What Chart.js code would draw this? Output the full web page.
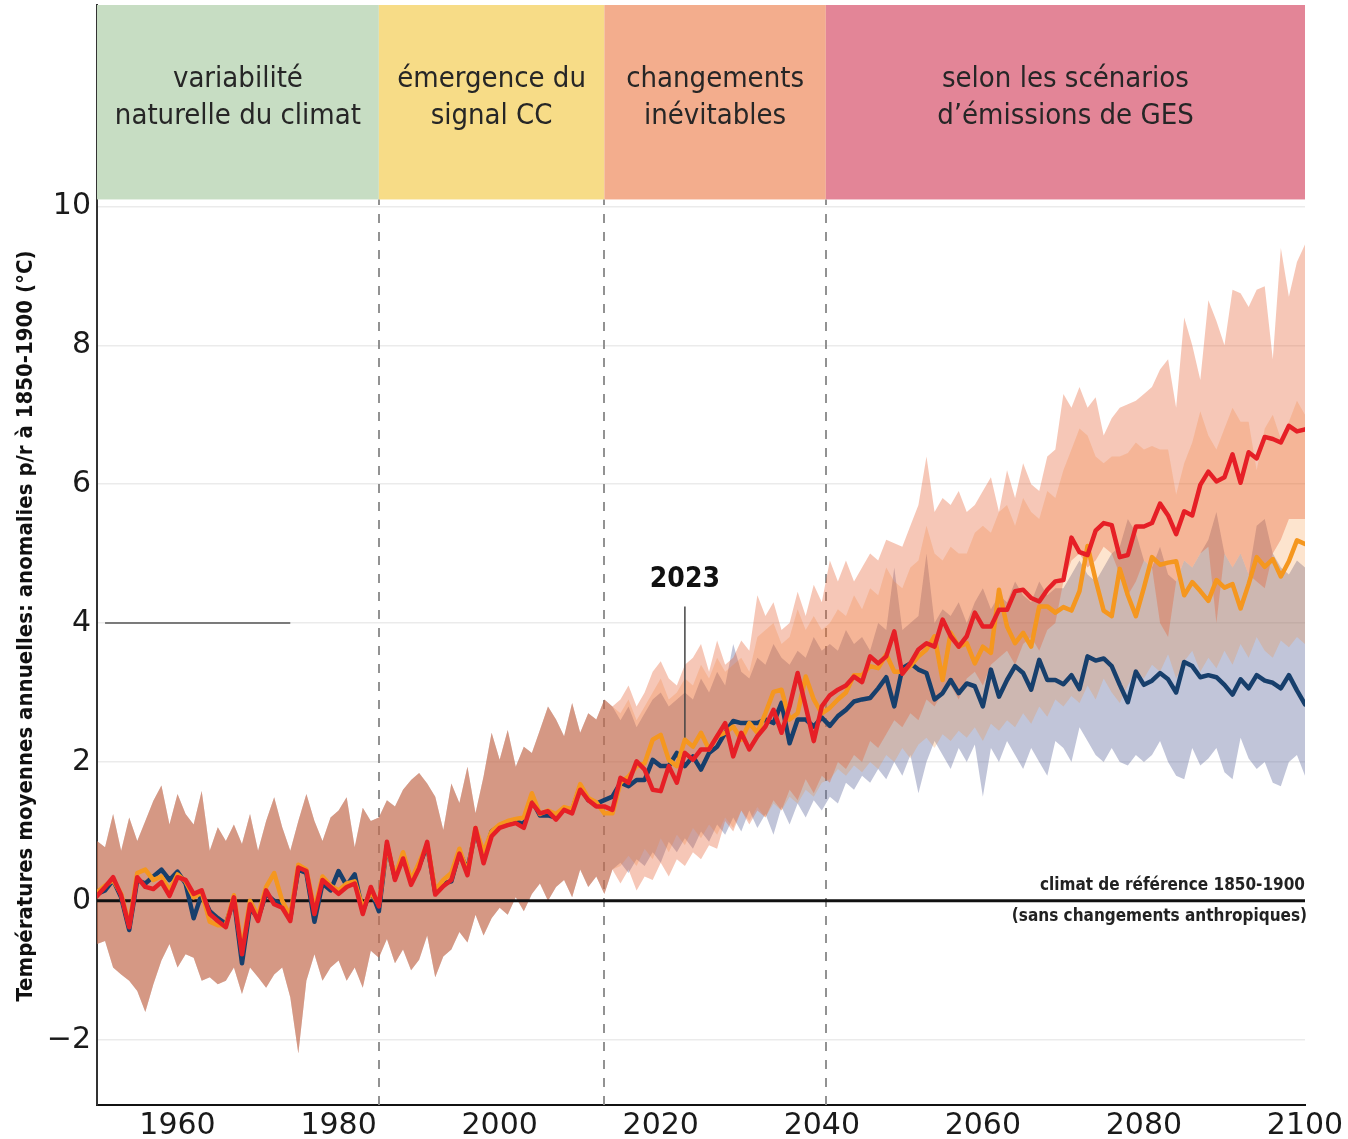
<!DOCTYPE html>
<html>
<head>
<meta charset="utf-8">
<script src="https://cdn.jsdelivr.net/npm/chart.js@4.4.1/dist/chart.umd.min.js"></script>
<style>
  html, body { margin: 0; padding: 0; background: #fff; }
</style>
</head>
<body>
<canvas id="chart" width="1348" height="1139"></canvas>
<script>
// years 1950..2100, historical part 1950-2014, scenarios 2015-2100
var firstYear = 1950;
var lastYear = 2100;

var xTicks = [1960, 1980, 2000, 2020, 2040, 2060, 2080, 2100];
var yTicks = [-2, 0, 2, 4, 6, 8, 10];

// phases shown in the header band
var phaseEdges = [1950, 1985, 2013, 2040.5, 2100];
var phaseLabels = [
    ['variabilité', 'naturelle du climat'],
    ['émergence du', 'signal CC'],
    ['changements', 'inévitables'],
    ['selon les scénarios', 'd\u2019émissions de GES']
];
var phaseColors = ['#c7ddc3', '#f7dc87', '#f3ad8d', '#e38597'];

// annual mean anomalies, historical runs (1950-2014)
var histBlue = [
    0.10, 0.15, 0.30, 0.05, -0.42, 0.30, 0.25, 0.35, 0.45, 0.30,
    0.42, 0.25, -0.25, 0.10, -0.15, -0.25, -0.33, 0.02, -0.90, -0.10,
    -0.25, 0.10, 0.00, -0.05, -0.25, 0.45, 0.40, -0.30, 0.25, 0.15,
    0.43, 0.22, 0.38, -0.15, 0.15, -0.15, 0.80, 0.33, 0.66, 0.28,
    0.50, 0.80, 0.12, 0.25, 0.28, 0.70, 0.45, 1.00, 0.62, 1.00,
    1.08, 1.12, 1.15, 1.10, 1.45, 1.23, 1.23, 1.20, 1.33, 1.30,
    1.65, 1.45, 1.40, 1.45, 1.50
];
var histOrange = [
    0.12, 0.22, 0.30, 0.10, -0.35, 0.40, 0.45, 0.30, 0.35, 0.15,
    0.38, 0.28, 0.05, 0.12, -0.30, -0.35, -0.35, 0.08, -0.70, 0.00,
    -0.22, 0.20, 0.40, 0.00, -0.22, 0.52, 0.45, -0.12, 0.35, 0.22,
    0.15, 0.25, 0.28, -0.10, 0.12, -0.05, 0.80, 0.35, 0.70, 0.30,
    0.55, 0.82, 0.15, 0.30, 0.40, 0.75, 0.40, 1.05, 0.70, 1.00,
    1.10, 1.15, 1.18, 1.20, 1.55, 1.25, 1.30, 1.25, 1.35, 1.32,
    1.68, 1.48, 1.42, 1.26, 1.26
];
var histRed = [
    0.07, 0.20, 0.34, 0.08, -0.38, 0.34, 0.20, 0.17, 0.27, 0.07,
    0.34, 0.30, 0.10, 0.15, -0.19, -0.29, -0.38, 0.05, -0.77, -0.05,
    -0.29, 0.15, -0.05, -0.10, -0.29, 0.48, 0.43, -0.19, 0.30, 0.20,
    0.10, 0.20, 0.25, -0.19, 0.20, -0.08, 0.85, 0.30, 0.61, 0.23,
    0.47, 0.85, 0.09, 0.21, 0.30, 0.68, 0.37, 1.05, 0.54, 0.93,
    1.05, 1.09, 1.12, 1.05, 1.41, 1.26, 1.29, 1.17, 1.31, 1.26,
    1.60, 1.45, 1.36, 1.36, 1.31
];
// spread of the model ensemble, historical (1950-2014)
var histBandHigh = [
    0.86, 0.77, 1.25, 0.72, 1.20, 0.86, 1.15, 1.44, 1.66, 1.10,
    1.54, 1.25, 1.10, 1.58, 0.72, 1.06, 0.86, 1.10, 0.82, 1.25,
    0.72, 1.15, 1.49, 1.06, 0.72, 1.15, 1.54, 1.15, 0.86, 1.20,
    1.30, 1.49, 0.77, 1.34, 1.15, 1.20, 1.45, 1.36, 1.60, 1.74,
    1.84, 1.69, 1.50, 1.02, 1.69, 1.41, 1.93, 1.26, 1.79, 2.42,
    2.03, 2.46, 1.93, 2.22, 2.13, 2.46, 2.80, 2.61, 2.37, 2.85,
    2.42, 2.70, 2.61, 2.90, 2.80
];
var histBandLow = [
    -0.62, -0.58, -0.96, -1.06, -1.15, -1.30, -1.60, -1.20, -0.86, -0.62,
    -0.96, -0.77, -0.82, -1.15, -1.10, -1.20, -1.15, -0.96, -1.34, -0.96,
    -1.10, -1.25, -1.06, -0.96, -1.39, -2.20, -1.15, -0.77, -1.15, -0.96,
    -0.86, -1.15, -0.96, -1.25, -0.72, -0.82, -0.55, -0.90, -0.70, -1.00,
    -0.85, -0.50, -1.10, -0.80, -0.70, -0.45, -0.60, -0.20, -0.50, -0.25,
    -0.10, -0.20, 0.05, -0.15, 0.10, 0.25, 0.00, 0.20, 0.30, 0.05,
    0.45, 0.20, 0.35, 0.10, 0.45
];

// scenarios 2015-2100
var futBlue = [
    1.70, 1.65, 1.74, 1.74, 2.03,
    1.94, 1.94, 2.13, 1.94, 2.08, 1.89, 2.13, 2.22, 2.42, 2.59,
    2.56, 2.56, 2.56, 2.61, 2.56, 2.85, 2.27, 2.61, 2.61, 2.51,
    2.64, 2.52, 2.66, 2.75, 2.87, 2.90, 2.92, 3.06, 3.22, 2.80,
    3.35, 3.42, 3.33, 3.28, 2.90, 2.99, 3.18, 2.99, 3.13, 3.09,
    2.80, 3.33, 2.94, 3.18, 3.38, 3.28, 3.04, 3.47, 3.18, 3.18,
    3.12, 3.25, 3.05, 3.52, 3.46, 3.49, 3.38, 3.11, 2.86, 3.30,
    3.11, 3.17, 3.28, 3.19, 3.00, 3.44, 3.38, 3.22, 3.25, 3.22,
    3.11, 2.97, 3.19, 3.06, 3.25, 3.17, 3.14, 3.06, 3.25, 3.03,
    2.83
];
var futOrange = [
    1.70, 1.79, 1.94, 1.98, 2.32,
    2.39, 2.03, 1.94, 2.32, 2.22, 2.42, 2.18, 2.37, 2.42, 2.51,
    2.32, 2.56, 2.42, 2.70, 3.01, 3.04, 2.61, 2.70, 3.23, 2.90,
    2.70, 2.78, 2.90, 3.00, 3.25, 3.25, 3.38, 3.35, 3.55, 3.30,
    3.30, 3.38, 3.52, 3.62, 3.81, 3.18, 3.86, 3.66, 3.71, 3.42,
    3.66, 3.57, 4.48, 3.95, 3.71, 3.86, 3.66, 4.24, 4.24, 4.15,
    4.23, 4.18, 4.46, 5.11, 4.62, 4.18, 4.10, 4.78, 4.40, 4.10,
    4.51, 4.95, 4.84, 4.87, 4.89, 4.40, 4.59, 4.46, 4.32, 4.62,
    4.51, 4.56, 4.21, 4.56, 4.95, 4.81, 4.92, 4.67, 4.89, 5.19,
    5.14
];
var futRed = [
    1.77, 1.70, 2.01, 1.89, 1.60,
    1.58, 1.94, 1.70, 2.13, 2.03, 2.18, 2.18, 2.37, 2.56, 2.08,
    2.42, 2.18, 2.37, 2.51, 2.75, 2.42, 2.80, 3.28, 2.80, 2.30,
    2.80, 2.96, 3.04, 3.10, 3.23, 3.15, 3.52, 3.42, 3.52, 3.88,
    3.27, 3.42, 3.62, 3.71, 3.66, 4.05, 3.81, 3.66, 3.81, 4.15,
    3.95, 3.95, 4.19, 4.19, 4.46, 4.48, 4.36, 4.31, 4.48, 4.60,
    4.62, 5.23, 5.02, 4.98, 5.33, 5.44, 5.41, 4.95, 4.98, 5.39,
    5.39, 5.44, 5.72, 5.55, 5.28, 5.61, 5.55, 5.99, 6.18, 6.04,
    6.10, 6.43, 6.02, 6.46, 6.37, 6.68, 6.65, 6.60, 6.84, 6.76,
    6.79
];

var blueHigh = [
    2.60, 2.80, 2.50, 2.70, 2.90,
    3.00, 2.80, 2.90, 3.00, 2.90, 3.20, 3.00, 3.30, 3.10, 3.70,
    3.30, 3.20, 3.50, 3.40, 3.70, 3.50, 3.40, 3.60, 3.50, 3.80,
    3.60, 3.70, 3.60, 3.90, 3.70, 3.80, 3.60, 4.00, 3.90, 4.80,
    3.90, 4.00, 4.10, 5.00, 4.00, 4.20, 4.10, 4.30, 4.00, 4.30,
    4.50, 4.20, 4.40, 4.30, 4.60, 4.40, 4.30, 4.60, 4.40, 4.50,
    4.50, 4.70, 4.90, 4.70, 4.60, 4.80, 5.00, 5.10, 5.50, 5.30,
    4.90, 4.80, 5.10, 4.70, 4.60, 4.90, 4.80, 5.00, 5.20, 5.60,
    5.00, 4.80, 5.00, 4.70, 5.40, 5.50, 5.00, 4.80, 4.70, 4.90,
    4.80
];
var blueLow = [
    0.55, 0.40, 0.60, 0.50, 0.70,
    0.55, 0.85, 0.70, 0.90, 0.75, 1.00, 0.85, 1.10, 0.95, 1.20,
    1.00, 1.30, 1.05, 1.25, 0.95, 1.35, 1.10, 1.40, 1.20, 1.45,
    1.30, 1.50, 1.40, 1.70, 1.60, 1.80, 1.70, 1.90, 1.75, 2.00,
    1.80, 2.10, 1.55, 2.00, 2.30, 2.10, 1.90, 2.20, 2.00, 2.25,
    1.50, 2.20, 2.00, 2.30, 2.10, 1.90, 2.20, 2.00, 1.80, 2.30,
    2.20, 2.00, 2.50, 2.30, 2.10, 2.00, 2.20, 2.00, 1.95, 2.10,
    2.00, 2.10, 2.30, 2.00, 1.80, 1.75, 2.20, 1.95, 2.05, 2.20,
    1.85, 1.75, 2.35, 2.05, 1.90, 2.00, 1.70, 1.65, 2.00, 2.10,
    1.80
];
var orangeHigh = [
    2.70, 2.90, 2.60, 2.80, 3.00,
    3.20, 2.90, 3.00, 3.20, 3.10, 3.40, 3.20, 3.50, 3.30, 3.40,
    3.50, 3.30, 3.80, 3.90, 4.00, 3.70, 3.80, 4.20, 3.90, 4.10,
    3.90, 4.00, 4.20, 4.10, 4.40, 4.20, 4.50, 4.40, 4.80, 4.60,
    4.50, 4.80, 4.90, 5.40, 5.00, 4.90, 5.10, 5.00, 5.00, 5.30,
    5.40, 5.30, 5.60, 5.70, 5.40, 5.80, 5.60, 5.50, 5.90, 5.80,
    6.20, 6.50, 6.80, 6.70, 6.40, 6.30, 6.40, 6.40, 6.45, 6.60,
    6.50, 6.55, 6.50, 6.50, 5.85, 6.30, 6.60, 7.05, 6.70, 6.50,
    6.80, 7.10, 6.90, 6.90, 6.20, 6.80, 7.00, 6.65, 6.90, 7.20,
    7.00
];
var orangeLow = [
    0.50, 0.65, 0.50, 0.75, 0.60,
    0.90, 0.70, 0.95, 0.80, 1.05, 0.90, 1.10, 0.95, 1.20, 1.05,
    1.30, 1.15, 1.35, 1.20, 1.40, 1.30, 1.50, 1.40, 1.60, 1.50,
    1.70, 1.75, 1.90, 1.80, 1.95, 1.85, 2.00, 1.90, 2.10, 2.00,
    2.20, 2.05, 2.25, 2.35, 2.20, 2.40, 2.30, 2.45, 2.35, 2.50,
    2.30, 2.55, 2.45, 2.60, 2.50, 2.70, 2.55, 2.80, 2.65, 2.90,
    2.80, 2.95, 2.85, 3.10, 2.90, 3.20, 3.00, 2.85, 3.10, 3.30,
    3.20, 3.40, 3.30, 3.55, 3.20, 3.45, 3.60, 3.30, 3.50, 3.35,
    3.60, 3.40, 3.70, 3.50, 3.80, 3.60, 3.50, 3.75, 3.65, 3.80,
    3.70
];
var redHigh = [
    2.90, 3.10, 2.80, 3.00, 3.30,
    3.45, 3.20, 3.10, 3.40, 3.50, 3.70, 3.30, 3.75, 3.40, 3.50,
    3.75, 3.60, 4.40, 4.10, 4.30, 3.90, 4.00, 4.45, 4.10, 4.55,
    4.30, 4.90, 4.60, 4.90, 4.60, 4.80, 5.00, 4.90, 5.20, 5.15,
    5.10, 5.40, 5.70, 6.40, 5.60, 5.80, 5.70, 5.90, 5.60, 5.70,
    5.90, 6.10, 5.60, 6.20, 5.80, 6.30, 6.00, 5.90, 6.40, 6.50,
    7.30, 7.10, 7.40, 7.10, 7.25, 6.70, 6.95, 7.10, 7.15, 7.20,
    7.30, 7.40, 7.65, 7.80, 7.10, 8.40, 8.00, 7.50, 8.65, 8.35,
    8.00, 8.80, 8.75, 8.55, 8.80, 8.85, 7.80, 9.40, 8.70, 9.20,
    9.45
];
var redLow = [
    0.25, 0.45, 0.15, 0.35, 0.30,
    0.55, 0.35, 0.60, 0.50, 0.70, 0.60, 0.80, 0.75, 1.15, 1.00,
    1.30, 1.10, 1.30, 1.20, 1.45, 1.30, 1.60, 1.45, 1.75, 1.55,
    1.80, 1.70, 2.00, 1.90, 2.10, 2.00, 2.30, 2.20, 2.40, 2.60,
    2.50, 2.70, 2.60, 2.90, 2.80, 3.00, 3.10, 2.90, 3.20, 3.30,
    3.10, 3.40, 3.50, 3.60, 3.40, 3.70, 3.80, 3.60, 3.90, 4.00,
    4.60, 4.90, 5.00, 4.80, 4.90, 5.10, 5.00, 4.70, 4.40, 4.60,
    4.90, 4.80, 4.00, 3.80, 4.60, 4.90, 4.80, 5.00, 5.10, 4.00,
    5.00, 4.80, 5.00, 4.70, 4.60, 4.50, 5.00, 5.20, 5.50, 5.50,
    5.50
];

// annotations
var annotYear = 2023;
var annotLineFrom = 2.32;
var annotLineTo = 4.24;
var annotTextAt = 4.63;
var strayLine = [{x: 1951, y: 4}, {x: 1974, y: 4}];
var zeroLine = [{x: firstYear, y: 0}, {x: lastYear, y: 0}];

function toPoints(values) {
    return values.map(function(v, i) { return {x: firstYear + i, y: v}; });
}

var condensed = '"DejaVu Sans Condensed", "DejaVu Sans", sans-serif';

function lineSet(label, values, color, order) {
    return {
        label: label,
        data: toPoints(values),
        borderColor: color,
        borderWidth: 4.5,
        borderJoinStyle: 'round',
        borderCapStyle: 'round',
        pointRadius: 0,
        fill: false,
        tension: 0,
        order: order
    };
}

function bandSet(values, fillColor, isUpper, order) {
    return {
        data: toPoints(values),
        borderWidth: 0,
        borderColor: 'rgba(0,0,0,0)',
        backgroundColor: fillColor,
        pointRadius: 0,
        fill: isUpper ? '+1' : false,
        tension: 0,
        order: order
    };
}

var decorPlugin = {
    id: 'decor',
    beforeDatasetsDraw: function(chart) {
        var ctx = chart.ctx;
        var xs = chart.scales.x, ys = chart.scales.y;
        var top = chart.chartArea.top;
        var headerBottom = ys.getPixelForValue(10.1);
        ctx.save();
        for (var i = 0; i < phaseLabels.length; i++) {
            var x0 = xs.getPixelForValue(phaseEdges[i]);
            var x1 = xs.getPixelForValue(phaseEdges[i + 1]);
            ctx.fillStyle = phaseColors[i];
            ctx.fillRect(x0, top, x1 - x0, headerBottom - top);
            ctx.fillStyle = '#262626';
            ctx.font = '29px ' + condensed;
            ctx.textAlign = 'center';
            ctx.textBaseline = 'middle';
            var cx = (x0 + x1) / 2;
            var y1 = ys.getPixelForValue(11.83);
            ctx.fillText(phaseLabels[i][0], cx, y1);
            ctx.fillText(phaseLabels[i][1], cx, y1 + 37);
        }
        // dashed phase limits
        ctx.strokeStyle = 'rgba(140,140,140,0.95)';
        ctx.lineWidth = 2;
        ctx.setLineDash([9, 9]);
        for (var j = 1; j < phaseEdges.length - 1; j++) {
            var px = Math.round(xs.getPixelForValue(phaseEdges[j]));
            ctx.beginPath();
            ctx.moveTo(px, chart.chartArea.bottom);
            ctx.lineTo(px, headerBottom);
            ctx.stroke();
        }
        ctx.restore();
    },
    afterDatasetsDraw: function(chart) {
        var ctx = chart.ctx;
        var xs = chart.scales.x, ys = chart.scales.y;
        ctx.save();
        ctx.fillStyle = '#111';
        ctx.font = 'bold 28px ' + condensed;
        ctx.textAlign = 'center';
        ctx.textBaseline = 'middle';
        ctx.fillText(String(annotYear), xs.getPixelForValue(annotYear), ys.getPixelForValue(annotTextAt));

        ctx.font = 'bold 17px ' + condensed;
        ctx.textAlign = 'right';
        ctx.fillStyle = '#222';
        var rx = xs.getPixelForValue(lastYear);
        ctx.fillText('climat de référence 1850-1900', rx, ys.getPixelForValue(0.22));
        ctx.fillText('(sans changements anthropiques)', rx + 2, ys.getPixelForValue(-0.23));

        // y axis title
        ctx.translate(26, 626);
        ctx.rotate(-Math.PI / 2);
        ctx.font = 'bold 22px ' + condensed;
        ctx.textAlign = 'center';
        ctx.fillStyle = '#111';
        ctx.fillText('Températures moyennes annuelles: anomalies p/r à 1850-1900 (°C)', 0, 0);
        ctx.restore();
    }
};

var ssp126 = histBlue.concat(futBlue);
var ssp245 = histOrange.concat(futOrange);
var ssp585 = histRed.concat(futRed);

new Chart(document.getElementById('chart'), {
    type: 'line',
    data: {
        datasets: [
            lineSet('SSP5-8.5', ssp585, '#e61f26', 0),
            lineSet('SSP2-4.5', ssp245, '#f5971f', 1),
            lineSet('SSP1-2.6', ssp126, '#173f6c', 2),
            {data: zeroLine, borderColor: '#111', borderWidth: 3, pointRadius: 0, fill: false, order: 3},
            {data: [{x: annotYear, y: annotLineFrom}, {x: annotYear, y: annotLineTo}],
             borderColor: '#444', borderWidth: 1.5, pointRadius: 0, fill: false, order: 3},
            {data: strayLine, borderColor: '#555', borderWidth: 1.5, pointRadius: 0, fill: false, order: 3},
            bandSet(histBandHigh.concat(redHigh), 'rgba(230,95,50,0.35)', true, 5),
            bandSet(histBandLow.concat(redLow), 'rgba(0,0,0,0)', false, 5),
            bandSet(histBandHigh.concat(orangeHigh), 'rgba(245,130,30,0.22)', true, 6),
            bandSet(histBandLow.concat(orangeLow), 'rgba(0,0,0,0)', false, 6),
            bandSet(histBandHigh.concat(blueHigh), 'rgba(100,110,160,0.4)', true, 7),
            bandSet(histBandLow.concat(blueLow), 'rgba(0,0,0,0)', false, 7)
        ]
    },
    options: {
        responsive: false,
        animation: false,
        layout: { padding: { top: 5, right: 43, bottom: 0, left: 0 } },
        plugins: {
            legend: { display: false },
            tooltip: { enabled: false }
        },
        scales: {
            x: {
                type: 'linear',
                min: firstYear,
                max: lastYear,
                afterBuildTicks: function(scale) {
                    scale.ticks = xTicks.map(function(v) { return {value: v}; });
                },
                afterFit: function(scale) {
                    scale.height = 34;
                    scale.paddingLeft = 0;
                    scale.paddingRight = 0;
                },
                grid: { display: false, drawTicks: false },
                border: { display: true, color: '#111', width: 2 },
                ticks: {
                    autoSkip: false,
                    maxRotation: 0,
                    padding: 3,
                    color: '#1a1a1a',
                    font: { family: 'DejaVu Sans', size: 30 },
                    callback: function(v) { return String(v); }
                }
            },
            y: {
                type: 'linear',
                min: -2.94,
                max: 12.9,
                afterBuildTicks: function(scale) {
                    scale.ticks = yTicks.map(function(v) { return {value: v}; });
                },
                afterFit: function(scale) {
                    scale.width = 97;
                    scale.paddingTop = 0;
                    scale.paddingBottom = 0;
                },
                grid: { color: '#ebebeb', lineWidth: 1.5, drawTicks: false },
                border: { display: true, color: '#333', width: 2 },
                ticks: {
                    padding: 6,
                    color: '#1a1a1a',
                    font: { family: 'DejaVu Sans', size: 30 },
                    callback: function(v) { return v < 0 ? '\u2212' + Math.abs(v) : String(v); }
                }
            }
        }
    },
    plugins: [decorPlugin]
});
</script>
</body>
</html>
